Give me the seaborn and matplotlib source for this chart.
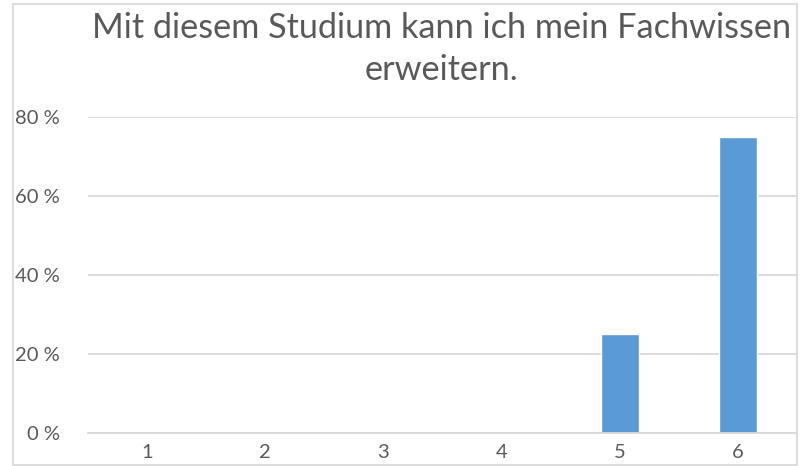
"""Single-question survey bar chart (share of answers per scale point)."""

import matplotlib.pyplot as plt
import pandas as pd
import seaborn as sns
from matplotlib.patches import Rectangle
from matplotlib.ticker import FuncFormatter

sns.set_theme(style="white")
plt.rcParams["font.family"] = ["Lato", "DejaVu Sans"]

TITLE = "Mit diesem Studium kann ich mein Fachwissen\nerweitern."
categories = ["1", "2", "3", "4", "5", "6"]
shares = [0.0, 0.0, 0.0, 0.0, 0.25, 0.75]
y_ticks = [0.0, 0.2, 0.4, 0.6, 0.8]

BAR_COLOR = "#5B9BD5"
GRID_COLOR = "#D9D9D9"
TEXT_COLOR = "#595959"

df = pd.DataFrame({"answer": categories, "share": shares})

W, H = 801, 466
fig = plt.figure(figsize=(W / 100, H / 100), dpi=100)
ax = fig.add_axes([88 / W, 33 / H, 709 / W, 316 / H])

sns.barplot(data=df, x="answer", y="share", order=categories,
            color=BAR_COLOR, width=0.32, saturation=1, ax=ax)

ax.set_ylim(0, 0.8)
ax.set_yticks(y_ticks)
ax.yaxis.set_major_formatter(FuncFormatter(lambda v, _: f"{v * 100:.0f} %"))
ax.set_xlabel("")
ax.set_ylabel("")
ax.yaxis.grid(True, color=GRID_COLOR, linewidth=1.3)
ax.set_axisbelow(True)
for side in ["top", "right", "left"]:
    ax.spines[side].set_visible(False)
ax.spines["bottom"].set_color(GRID_COLOR)
ax.spines["bottom"].set_linewidth(1.3)
ax.tick_params(axis="both", length=0, labelsize=14.5, colors=TEXT_COLOR)
ax.tick_params(axis="y", pad=20)
ax.tick_params(axis="x", pad=8)

fig.text(442 / W, 1 - 49 / H, TITLE, ha="center", va="center",
         fontsize=24.7, color=TEXT_COLOR, linespacing=1.39)

# thin chart-area border
fig.patches.append(Rectangle((13 / W, 1 / H), 784 / W, 461 / H,
                             transform=fig.transFigure, fill=False,
                             edgecolor=GRID_COLOR, linewidth=1.3))

fig.savefig("out.png", dpi=100)
